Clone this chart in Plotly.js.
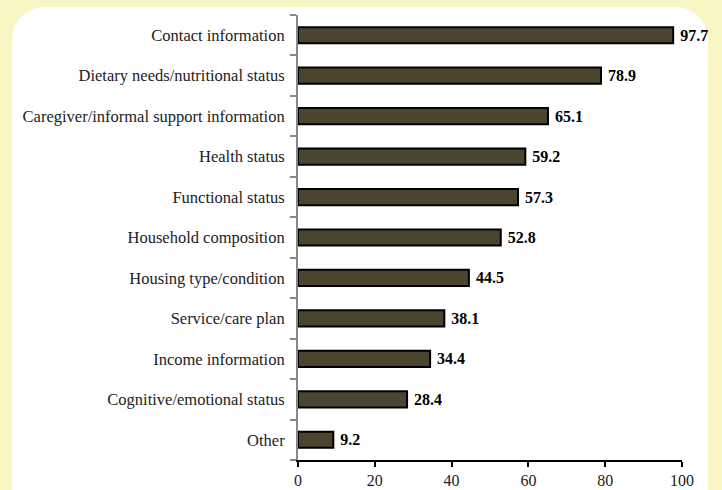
<!DOCTYPE html>
<html><head><meta charset="utf-8">
<script src="https://cdn.plot.ly/plotly-3.0.1.min.js"></script>
<style>
html,body{margin:0;padding:0;width:722px;height:490px;overflow:hidden;background:#F8F6C2;}
#card{position:absolute;left:12px;top:7px;width:696px;height:520px;background:#fff;border-radius:32px;}
#chart{position:absolute;left:0;top:0;width:722px;height:490px;}
</style></head>
<body>
<div id="card"></div>
<div id="chart"></div>
<script>
const categories = ["Contact information","Dietary needs/nutritional status","Caregiver/informal support information","Health status","Functional status","Household composition","Housing type/condition","Service/care plan","Income information","Cognitive/emotional status","Other"];
const values = [97.7,78.9,65.1,59.2,57.3,52.8,44.5,38.1,34.4,28.4,9.2];
const xTicks = [0,20,40,60,80,100];

const font = "Liberation Serif, Times New Roman, serif";
Plotly.newPlot("chart",[{
  type:"bar", orientation:"h",
  y: categories, x: values,
  marker:{color:"#4A4430", line:{color:"#000", width:2}},
  width:0.4,
  text: values.map(v=>v.toFixed(1)),
  texttemplate:"\u00a0<b>%{text}</b>",
  textposition:"outside",
  constraintext:"none",
  cliponaxis:false,
  textfont:{family:font,size:16,color:"#000"},
  hoverinfo:"none"
}],{
  width:722,height:490,
  margin:{l:298,r:40,t:15,b:30},
  paper_bgcolor:"rgba(0,0,0,0)",
  plot_bgcolor:"rgba(0,0,0,0)",
  showlegend:false,
  font:{family:font,size:16,color:"#222"},
  xaxis:{range:[0,100],tickvals:xTicks,ticks:"outside",ticklen:5,tickwidth:2,tickcolor:"#000",
    showline:true,linecolor:"#000",linewidth:2,showgrid:false,zeroline:false,
    tickfont:{family:font,size:16,color:"#222"}},
  yaxis:{categoryorder:"array",categoryarray:categories.slice().reverse(),autorange:false,range:[-0.5,10.5],
    ticks:"outside",tickson:"boundaries",ticklen:6,tickwidth:2,tickcolor:"#888",ticklabelstandoff:8,
    showline:true,linecolor:"#888",linewidth:2,showgrid:false,zeroline:false,
    tickfont:{family:font,size:16.5,color:"#222"}}
},{staticPlot:true,displayModeBar:false});
</script>
</body></html>
